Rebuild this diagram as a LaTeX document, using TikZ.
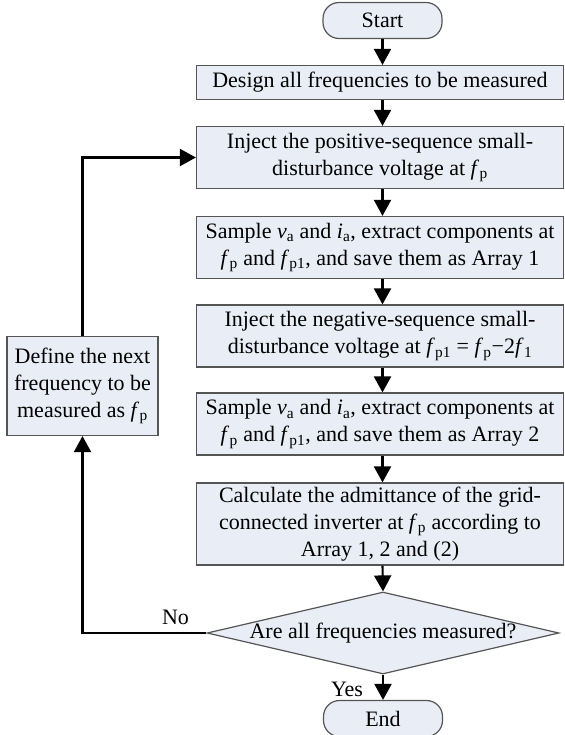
\documentclass[tikz,border=0pt]{standalone}
\usepackage{fontspec}
\setmainfont{Liberation Serif}
\usetikzlibrary{arrows.meta,shapes.geometric}
\definecolor{boxfill}{RGB}{233,238,246}
\definecolor{boxline}{RGB}{85,85,85}
% italic frequency symbol with an upright subscript
\newcommand{\fq}[1]{\textit{f}\kern0.3pt\textsubscript{#1}}
\newcommand{\va}{\textit{v}\textsubscript{a}}
\newcommand{\ia}{\textit{i}\textsubscript{a}}
\begin{document}
\begin{tikzpicture}[x=1pt,y=-1pt,
  every node/.style={font=\fontsize{22}{27}\selectfont},
  stepbox/.style={draw=boxline, line width=1.2pt, fill=boxfill, align=center,
    inner sep=0pt, minimum width=367pt},
  termbox/.style={draw=boxline, line width=1.2pt, fill=boxfill, rounded corners=16pt,
    inner sep=0pt, minimum width=119pt, minimum height=36pt},
  flowarrow/.style={draw=black, line width=2.1pt, -{Triangle[length=16pt,width=17pt]}}]
\useasboundingbox (0,0) rectangle (564,735);

% terminals
\node[termbox] (start) at (382.5,20.5) {Start};
\node[termbox] (stop) at (383,718.5) {End};

% process steps
\node[stepbox, minimum height=34pt] (b1) at (380,82.5)
  {Design all frequencies to be measured};
\node[stepbox, minimum height=62pt] (b2) at (380,157.5)
  {Inject the positive-sequence small-\\disturbance voltage at \fq{p}};
\node[stepbox, minimum height=62pt] (b3) at (380,247.5)
  {Sample \va{} and \ia, extract components at\\\fq{p} and \fq{p1}, and save them as Array 1};
\node[stepbox, minimum height=62pt] (b4) at (380,336)
  {Inject the negative-sequence small-\\disturbance voltage at \fq{p1} = \fq{p}−2\fq{1}};
\node[stepbox, minimum height=62pt] (b5) at (380,424)
  {Sample \va{} and \ia, extract components at\\\fq{p} and \fq{p1}, and save them as Array 2};
\node[stepbox, minimum height=82pt] (b6) at (380,524)
  {Calculate the admittance of the grid-\\connected inverter at \fq{p} according to\\Array 1, 2 and (2)};

% decision
\node[shape=diamond, draw=boxline, line width=1.2pt, fill=boxfill, inner sep=0pt,
  aspect=4.36, minimum width=352pt, minimum height=82pt,
  label={center:Are all frequencies measured?}] (dec) at (383,633) {};

% next frequency
\node[stepbox, minimum width=151pt, minimum height=99pt] (nxt) at (82.5,386)
  {Define the next\\frequency to be\\measured as \fq{p}};

% main flow
\draw[flowarrow] (start.south) -- (start.south |- b1.north);
\draw[flowarrow] (start.south |- b1.south) -- (start.south |- b2.north);
\draw[flowarrow] (start.south |- b2.south) -- (start.south |- b3.north);
\draw[flowarrow] (start.south |- b3.south) -- (start.south |- b4.north);
\draw[flowarrow] (start.south |- b4.south) -- (start.south |- b5.north);
\draw[flowarrow] (start.south |- b5.south) -- (start.south |- b6.north);
\draw[flowarrow] (start.south |- b6.south) -- (dec.north);
\draw[flowarrow] (dec.south) -- (stop.north);

% loop back
\draw[flowarrow] (dec.west) -| (nxt.south);
\draw[flowarrow] (nxt.north) |- (b2.west);

\node (no) at (175.5,617) {No};
\node (yes) at (347,689) {Yes};
\end{tikzpicture}
\end{document}
